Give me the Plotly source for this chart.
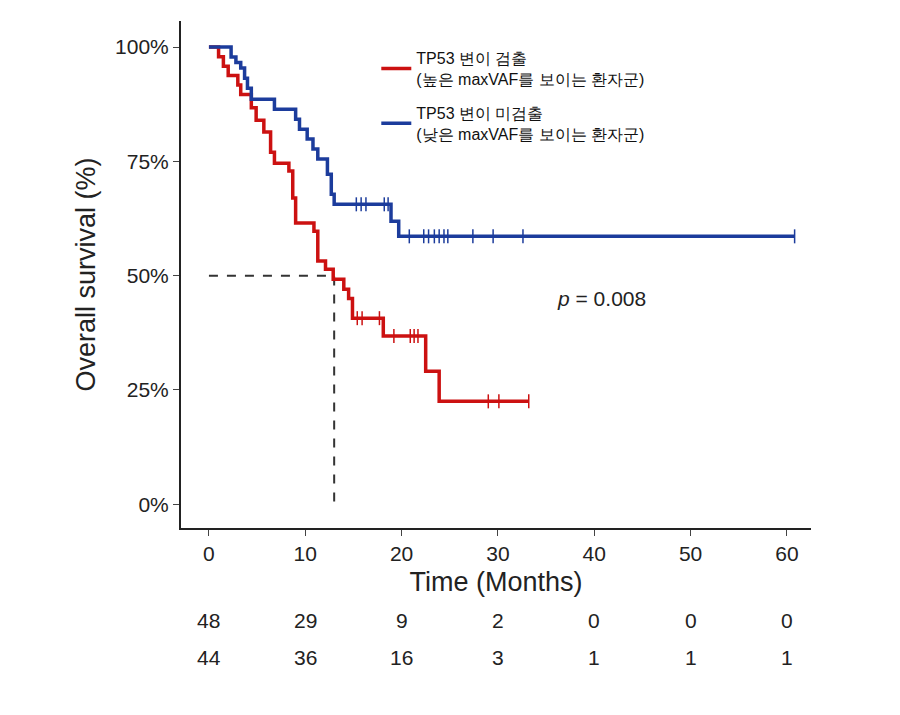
import numpy as np
import plotly.graph_objects as go

# Kaplan-Meier step data
red_times = [0, 1.0, 1.5, 2.0, 3.0, 3.3, 4.4, 4.9, 5.7, 6.4, 6.8, 8.3, 8.7, 9.0, 10.9, 11.3, 12.1, 12.9, 14.0, 14.5, 14.9, 18.1, 22.5, 23.9, 33.2]
red_surv = [100, 97.9, 95.8, 93.8, 91.7, 89.6, 86.7, 84.0, 81.4, 77.0, 74.6, 72.9, 67.0, 61.5, 59.7, 53.2, 51.4, 49.2, 47.0, 45.0, 40.7, 36.8, 29.1, 22.5, 22.5]
red_censor = [15.4, 15.9, 17.7, 19.2, 20.9, 21.3, 21.7, 29.0, 30.1, 33.2]

blue_times = [0, 2.3, 2.8, 3.3, 3.7, 4.0, 4.4, 6.8, 9.0, 9.4, 10.2, 10.8, 11.3, 12.3, 12.7, 13.0, 18.9, 19.7, 60.8]
blue_surv = [100, 97.8, 96.6, 95.4, 93.2, 91.0, 88.6, 86.4, 84.2, 82.0, 79.9, 77.7, 75.5, 72.2, 67.8, 65.6, 61.9, 58.6, 58.6]
blue_censor = [15.3, 15.8, 16.3, 18.2, 18.6, 20.8, 22.3, 22.8, 23.4, 23.9, 24.4, 24.8, 27.4, 29.5, 32.6, 60.8]

median_time = 13.0
risk_times = [0, 10, 20, 30, 40, 50, 60]
risk_red = [48, 29, 9, 2, 0, 0, 0]
risk_blue = [44, 36, 16, 3, 1, 1, 1]

red = "#cc1111"
blue = "#1c3c9c"
font = "Liberation Sans, Arial"


def surv_at(times, surv, t):
    idx = np.searchsorted(times, t, side="right") - 1
    return surv[idx]


fig = go.Figure()

# median dashed guide
fig.add_trace(go.Scatter(x=[0, median_time, median_time], y=[50, 50, 0], mode="lines",
                         line=dict(color="#333333", width=2, dash="dash"),
                         showlegend=False, hoverinfo="skip"))

for times, surv, cens, col, name in [
    (red_times, red_surv, red_censor, red, "TP53 변이 검출<br>(높은 maxVAF를 보이는 환자군)"),
    (blue_times, blue_surv, blue_censor, blue, "TP53 변이 미검출<br>(낮은 maxVAF를 보이는 환자군)"),
]:
    fig.add_trace(go.Scatter(x=times, y=surv, mode="lines", line=dict(color=col, width=3.5, shape="hv"),
                             name=name, legendgroup=name))
    fig.add_trace(go.Scatter(x=cens, y=[surv_at(times, surv, c) for c in cens], mode="markers",
                             marker=dict(symbol="line-ns", size=10, line=dict(color=col, width=1.5)),
                             showlegend=False, legendgroup=name))

fig.add_annotation(x=40.7, y=45, text="<i>p</i> = 0.008", showarrow=False,
                   font=dict(size=21, color="#222"))

# number at risk table
for row, vals in enumerate([risk_red, risk_blue]):
    for t, v in zip(risk_times, vals):
        fig.add_annotation(x=t, y=-0.21 - row * 0.073, xref="x", yref="paper", text=str(v),
                           showarrow=False, font=dict(size=21, color="#222"))

fig.update_layout(
    width=900, height=715,
    margin=dict(l=173, r=97, t=13, b=195),
    plot_bgcolor="white", paper_bgcolor="white",
    font=dict(family=font, color="#222"),
    legend=dict(x=0.31, y=0.96, xanchor="left", yanchor="top", font=dict(size=16, color="#111"),
                tracegroupgap=10, bgcolor="rgba(0,0,0,0)"),
    xaxis=dict(range=[-2.9, 62.5], tickvals=risk_times, showgrid=False, zeroline=False,
               showline=True, linecolor="#222", linewidth=2, ticks="outside", ticklen=6,
               tickfont=dict(size=21), title=dict(text="Time (Months)", font=dict(size=27), standoff=8)),
    yaxis=dict(range=[-5.2, 105.7], tickvals=[0, 25, 50, 75, 100],
               ticktext=["0%", "25%", "50%", "75%", "100%"], showgrid=False, zeroline=False,
               showline=True, linecolor="#222", linewidth=2, ticks="outside", ticklen=6,
               tickfont=dict(size=21), title=dict(text="Overall survival (%)", font=dict(size=27), standoff=12)),
)

fig.write_html("out.html")
